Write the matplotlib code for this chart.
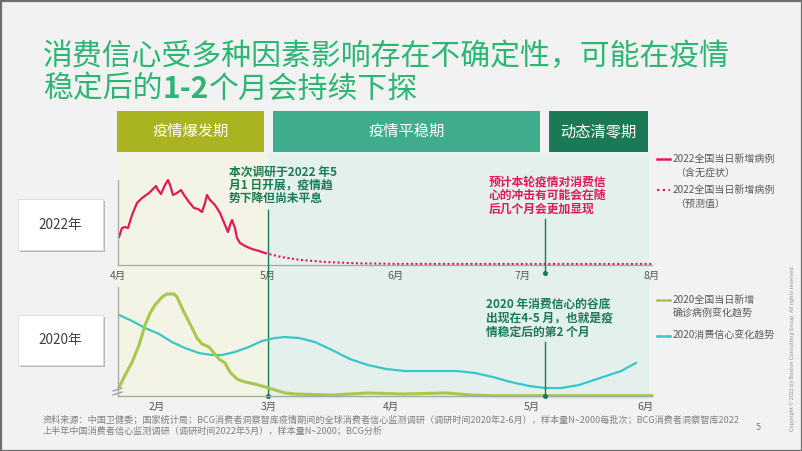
import numpy as np
import matplotlib
matplotlib.use("Agg")
import matplotlib.pyplot as plt
from matplotlib.patches import Rectangle
from matplotlib.lines import Line2D
from matplotlib import transforms

plt.rcParams["font.family"] = ["Noto Sans CJK SC", "DejaVu Sans"]

W, H = 802, 451

# ------------------------------------------------------------
# data (0-100 = relative height)
# ------------------------------------------------------------
# 2022 daily new cases, x = day of April
APR_DAY = [0.2, 0.8, 1.4, 2.0, 2.8, 3.8, 4.8, 6.2, 7.2, 7.6, 8.0, 8.6, 9.4, 10.0,
           10.4, 11.0, 11.8, 12.6, 13.2, 14.2, 15.2, 16.0, 16.8, 17.4, 17.8, 18.4,
           19.4, 20.4, 21.4, 22.0, 22.4, 22.8, 23.4, 23.8, 24.4, 25.4, 26.8, 28.2, 29.4]
CASES_2022 = [33, 43.5, 44.7, 43.5, 58.8, 72.9, 78.8, 84.7, 90.6, 92.9, 88.2, 83.5,
              94.1, 100, 94.1, 82.4, 84.7, 88.2, 82.4, 74.1, 67.1, 65.9, 62.4, 72.9,
              82.4, 76.5, 70.6, 61.2, 47.1, 38.8, 47.1, 52.9, 43.5, 31.8, 25.9, 22.4,
              18.8, 16.5, 14.1]
# 2022 forecast, x = month
FORECAST_MONTH = [4.98, 5.1, 5.25, 5.45, 5.7, 6.0, 7.0, 8.0]
FORECAST_2022 = [14.1, 9.5, 6.0, 3.5, 2.0, 1.3, 1.2, 1.2]

# 2020 daily confirmed cases, x = month
CASES_MONTH_2020 = [1.661, 1.714, 1.777, 1.839, 1.893, 1.938, 1.982, 2.045, 2.089,
                    2.152, 2.179, 2.223, 2.268, 2.313, 2.357, 2.402, 2.464, 2.509,
                    2.554, 2.607, 2.652, 2.714, 2.786, 2.875, 2.964, 3.049, 3.131,
                    3.213, 3.516, 3.811, 4.092, 4.39, 4.567, 4.723, 6.06]
CASES_2020 = [8.3, 19.3, 31.2, 46.8, 65.1, 76.1, 83.5, 90.8, 93.6, 93.6, 90.8, 80.7,
              71.6, 62.4, 53.2, 47.7, 45.0, 39.4, 33.9, 30.3, 22.0, 15.6, 12.8, 11.0,
              8.3, 5.5, 2.8, 1.8, 0.9, 2.8, 1.8, 2.8, 0.9, 0.3, 0.3]

# 2020 consumer confidence trend, x = month
CONF_MONTH_2020 = [1.661, 1.777, 1.893, 2.018, 2.134, 2.25, 2.375, 2.491, 2.58, 2.696,
                   2.821, 2.938, 3.049, 3.131, 3.246, 3.377, 3.516, 3.664, 3.811,
                   3.959, 4.099, 4.213, 4.468, 4.596, 4.723, 4.851, 4.979, 5.115,
                   5.257, 5.416, 5.602, 5.788, 5.92]
CONFIDENCE_2020 = [74.3, 68.8, 62.4, 56.9, 49.5, 44.0, 39.4, 37.6, 37.6, 40.4, 45.0,
                   50.5, 53.2, 54.1, 53.2, 49.5, 42.2, 33.9, 28.4, 24.8, 22.9, 22.9,
                   22.9, 21.1, 17.4, 12.8, 9.2, 7.3, 7.3, 10.1, 16.5, 22.9, 30.3]

TOP_MONTHS = [4, 5, 6, 7, 8]
TOP_LABELS = ["4月", "5月", "6月", "7月", "8月"]
LOW_MONTHS = [2, 3, 4, 5, 6]
LOW_LABELS = ["2月", "3月", "4月", "5月", "6月"]

PHASES = ["疫情爆发期", "疫情平稳期", "动态清零期"]
YEARS = ["2022年", "2020年"]

NOTE_SURVEY = ["本次调研于2022 年5", "月1 日开展，疫情趋", "势下降但尚未平息"]
NOTE_OUTLOOK = ["预计本轮疫情对消费信", "心的冲击有可能会在随", "后几个月会更加显现"]
NOTE_TROUGH = ["2020 年消费信心的谷底", "出现在4-5 月，也就是疫", "情稳定后的第2 个月"]

SURVEY_MONTH = 5.0      # survey start, upper axis
OUTLOOK_MONTH = 7.17    # upper axis
TROUGH_MONTH = 5.115    # lower axis

SOURCE = ["资料来源：中国卫健委；国家统计局；BCG消费者洞察智库疫情期间的全球消费者信心监测调研（调研时间2020年2-6月），样本量N~2000每批次；BCG消费者洞察智库2022",
          "上半年中国消费者信心监测调研（调研时间2022年5月），样本量N~2000；BCG分析"]

# ------------------------------------------------------------
# colours / layout (pixel coordinates of the 802x451 slide)
# ------------------------------------------------------------
GREEN_TITLE = "#2bb673"
DARK_GREEN = "#197a56"
RED = "#e0195a"
LIME = "#a9c84a"
CYAN = "#38c7c8"
GREY_TXT = "#595959"
AXIS_GREY = "#a6a6a6"
PHASE_COLORS = ["#a9b420", "#3fac8e", "#1b7a56"]
PHASE_BOXES = [(117, 264), (273, 540), (549, 648)]

TOP_TICK_PX = [118, 268, 396, 523, 652]
LOW_BREAK_MONTHS = [1.65, 2, 3, 4, 5, 6, 6.06]
LOW_BREAK_PX = [118, 157, 269, 391, 532, 645, 652]


def px_axes(fig, x0, y0, x1, y1):
    return fig.add_axes([x0 / W, 1 - y1 / H, (x1 - x0) / W, (y1 - y0) / H])


def piecewise_x(ax, months, px):
    # the hand-drawn slide does not space months evenly
    fwd = lambda x: np.interp(x, months, px)
    inv = lambda p: np.interp(p, px, months)
    ax.set_xscale("function", functions=(fwd, inv))


def style_chart(ax, months, labels):
    ax.set_facecolor("none")
    for s in ["top", "right"]:
        ax.spines[s].set_visible(False)
    for s in ["left", "bottom"]:
        ax.spines[s].set_color(AXIS_GREY)
        ax.spines[s].set_linewidth(0.9)
    ax.set_yticks([])
    ax.set_xticks(months)
    ax.set_xticklabels(labels, fontsize=7.5, color=GREY_TXT)
    ax.tick_params(axis="x", length=0, pad=4)
    ax.set_ylim(0, 100)


fig = plt.figure(figsize=(W / 100, H / 100), dpi=100)
fig.patch.set_facecolor("#f2f2f2")

bg = fig.add_axes([0, 0, 1, 1])
bg.set_xlim(0, W)
bg.set_ylim(H, 0)
bg.axis("off")
bg.add_patch(Rectangle((0.5, 0.5), W - 1, H - 1, fill=False, ec="#6e6e6e", lw=1.6))

# title
bg.text(43, 56, "消费信心受多种因素影响存在不确定性，可能在疫情", fontsize=21.5,
        color=GREEN_TITLE, va="center", ha="left")
renderer = fig.canvas.get_renderer()
x = 43
for piece, weight in [("稳定后的", "normal"), ("1-2", "bold"), ("个月会持续下探", "normal")]:
    t = bg.text(x, 89, piece, fontsize=21.5, color=GREEN_TITLE, va="center",
                ha="left", fontweight=weight)
    x += t.get_window_extent(renderer).width

# phase header boxes
for name, (x0, x1), c in zip(PHASES, PHASE_BOXES, PHASE_COLORS):
    bg.add_patch(Rectangle((x0, 111), x1 - x0, 41, color=c, lw=0))
    bg.text((x0 + x1) / 2, 131.5, name, fontsize=11, color="white", ha="center",
            va="center", fontweight="medium")

# background tints of the phases
bg.add_patch(Rectangle((117, 153), 151, 246, color="#f3f4e5", lw=0))
bg.add_patch(Rectangle((268, 153), 381, 246, color="#e3f0eb", lw=0))

# year boxes
for label, (y0, y1) in zip(YEARS, [(199, 250), (315, 365)]):
    bg.add_patch(Rectangle((20, y0 + 2), 85, y1 - y0, color="#b8b8b8", lw=0))
    bg.add_patch(Rectangle((18, y0), 85, y1 - y0, fc="white", ec="#d9d9d9", lw=0.6))
    bg.text(60.5, (y0 + y1) / 2, label, fontsize=9.8, color="#404040",
            ha="center", va="center")

# ------------------------------------------------------------
# charts
# ------------------------------------------------------------
ax_top = px_axes(fig, 118, 180, 652, 265)
piecewise_x(ax_top, TOP_MONTHS, TOP_TICK_PX)
style_chart(ax_top, TOP_MONTHS, TOP_LABELS)
ax_top.set_xlim(4, 8)
top_x = [4 + d / 30 for d in APR_DAY]
ax_top.plot(top_x, CASES_2022, color=RED, lw=1.6, solid_joinstyle="round", clip_on=False)
ax_top.plot(FORECAST_MONTH, FORECAST_2022, color=RED, lw=1.5, ls=(0, (1, 1.2)),
            clip_on=False)

ax_low = px_axes(fig, 118, 287, 652, 396)
piecewise_x(ax_low, LOW_BREAK_MONTHS, LOW_BREAK_PX)
style_chart(ax_low, LOW_MONTHS, LOW_LABELS)
ax_low.set_xlim(LOW_BREAK_MONTHS[0], LOW_BREAK_MONTHS[-1])
ax_low.plot(CONF_MONTH_2020, CONFIDENCE_2020, color=CYAN, lw=1.6, clip_on=False)
ax_low.plot(CASES_MONTH_2020, CASES_2020, color=LIME, lw=2.2, clip_on=False,
            solid_joinstyle="round")

# axis break mark
for dy in (0, 4):
    bg.add_line(Line2D([113, 122], [391 + dy, 388 + dy], color="#8c8c8c", lw=0.8))


# annotation lines: x from chart data, y in slide pixels
def marker_line(ax, xval, y0, y1):
    tr = transforms.blended_transform_factory(ax.transData, bg.transData)
    ax.add_line(Line2D([xval, xval], [y0, y1], transform=tr, color=DARK_GREEN,
                       lw=1.0, clip_on=False, zorder=5))
    ax.add_line(Line2D([xval], [y1], transform=tr, color=DARK_GREEN, marker="o",
                       ms=2.6, clip_on=False, zorder=5))


marker_line(ax_top, SURVEY_MONTH, 210, 396)
marker_line(ax_top, OUTLOOK_MONTH, 219, 273)
marker_line(ax_low, TROUGH_MONTH, 342, 396)

note_kw = dict(fontsize=8.5, fontweight="bold", va="center", ha="left")
for i, line in enumerate(NOTE_SURVEY):
    bg.text(229, 172 + 13.2 * i, line, color=DARK_GREEN, **note_kw)
for i, line in enumerate(NOTE_OUTLOOK):
    bg.text(489, 182 + 13.6 * i, line, color=RED, **note_kw)
for i, line in enumerate(NOTE_TROUGH):
    bg.text(486, 304 + 14 * i, line, color=DARK_GREEN, **note_kw)

# legend
leg_kw = dict(fontsize=7.2, color=GREY_TXT, va="center", ha="left")
bg.add_line(Line2D([657, 670], [159, 159], color=RED, lw=1.8))
bg.text(673, 159, "2022全国当日新增病例", **leg_kw)
bg.text(675, 173, "（含无症状）", **leg_kw)
bg.add_line(Line2D([657, 670], [190, 190], color=RED, lw=1.6, ls=(0, (1, 1.6))))
bg.text(673, 190, "2022全国当日新增病例", **leg_kw)
bg.text(675, 204, "（预测值）", **leg_kw)
bg.add_line(Line2D([657, 670], [300, 300], color=LIME, lw=1.8))
bg.text(673, 300, "2020全国当日新增", **leg_kw)
bg.text(673, 314, "确诊病例变化趋势", **leg_kw)
bg.add_line(Line2D([657, 670], [336, 336], color=CYAN, lw=1.8))
bg.text(673, 336, "2020消费信心变化趋势", **leg_kw)

# footer
for i, line in enumerate(SOURCE):
    bg.text(43, 420 + 11 * i, line, fontsize=6.55, color="#808080", va="center", ha="left")
bg.text(758, 427, "5", fontsize=6.5, color="#808080", va="center", ha="center")
bg.text(792, 348, "Copyright © 2022 by Boston Consulting Group. All rights reserved.",
        fontsize=3.9, color="#8c8c8c", rotation=90, va="center", ha="center")

fig.savefig("out.png", dpi=100, facecolor=fig.get_facecolor())
